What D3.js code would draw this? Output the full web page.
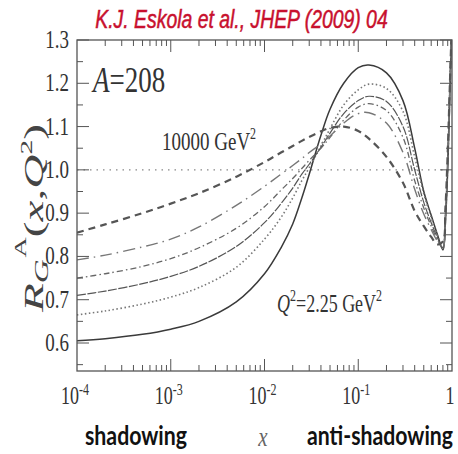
<!DOCTYPE html>
<html><head><meta charset="utf-8">
<script src="https://cdn.jsdelivr.net/npm/d3@7"></script>
<style>body{margin:0;background:#fff}svg{display:block}</style>
</head><body>
<script>
// ---- data ----
const xValues = [1e-4, 2e-4, 5e-4, 1e-3, 2e-3, 5e-3, 1e-2, 1.5e-2, 2e-2, 2.5e-2, 3e-2, 4e-2, 5e-2, 7e-2, 0.1, 0.13, 0.2, 0.3, 0.4, 0.5, 0.6, 0.7, 0.8, 0.85, 0.9, 0.95, 1.0];
const rQ2_lowest  = [0.605,0.610,0.620,0.632,0.650,0.695,0.760,0.820,0.875,0.935,0.990,1.080,1.140,1.200,1.236,1.242,1.224,1.160,1.050,0.950,0.895,0.850,0.815,0.880,1.000,1.180,1.350];
const rQ2_second  = [0.665,0.674,0.690,0.706,0.728,0.775,0.840,0.890,0.935,0.975,1.005,1.055,1.095,1.150,1.185,1.198,1.188,1.135,1.030,0.945,0.890,0.848,0.818,0.885,1.010,1.190,1.350];
const rQ2_third   = [0.710,0.720,0.737,0.754,0.777,0.823,0.878,0.922,0.958,0.990,1.013,1.052,1.085,1.130,1.160,1.170,1.158,1.100,1.000,0.925,0.878,0.843,0.820,0.890,1.020,1.200,1.350];
const rQ2_fourth  = [0.750,0.760,0.777,0.795,0.820,0.865,0.915,0.953,0.980,1.003,1.022,1.050,1.075,1.115,1.145,1.153,1.137,1.075,0.975,0.912,0.870,0.838,0.820,0.890,1.020,1.200,1.350];
const rQ2_fifth   = [0.792,0.803,0.822,0.840,0.868,0.918,0.962,0.990,1.010,1.026,1.040,1.060,1.078,1.108,1.130,1.132,1.108,1.040,0.955,0.898,0.862,0.835,0.822,0.895,1.030,1.200,1.350];
const rQ2_highest = [0.855,0.874,0.900,0.922,0.946,0.984,1.018,1.040,1.055,1.067,1.076,1.089,1.097,1.100,1.090,1.072,1.030,0.970,0.905,0.870,0.845,0.828,0.835,0.910,1.040,1.200,1.350];
const xTickExponents = [-4, -3, -2, -1];
const xLastTickLabel = "1";
const yTickValues = [0.6, 0.7, 0.8, 0.9, 1.0, 1.1, 1.2, 1.3];
const yTickLabels = ["0.6", "0.7", "0.8", "0.9", "1.0", "1.1", "1.2", "1.3"];
const titleText = "K.J. Eskola et al., JHEP (2009) 04";
const nucleusLabel = ["A", "=208"];
const highQ2Label = "10000 GeV";
const lowQ2Label = ["Q", "=2.25 GeV"];
const bottomLeftText = "shadowing";
const bottomRightText = "anti-shadowing";

// ---- layout ----
const W = 458, H = 454;
const L = 77, R = 452, T = 40, B = 371;
const serif = "'Liberation Serif','Times New Roman',serif";
const sans = "'Liberation Sans',Arial,sans-serif";
const x = d3.scaleLog().domain([1e-4, 1]).range([L, R]);
const y = d3.scaleLinear().domain([0.6, 1.3]).range([343, 40]);

const svg = d3.select("body").append("svg").attr("width", W).attr("height", H)
  .style("background", "#fff");

svg.append("clipPath").attr("id", "clip").append("rect")
  .attr("x", L).attr("y", T).attr("width", R - L).attr("height", B - T);

// reference line at 1.0
svg.append("line").attr("x1", L).attr("x2", R).attr("y1", y(1)).attr("y2", y(1))
  .attr("stroke", "#888").attr("stroke-width", 1.2).attr("stroke-dasharray", "1.5,5");

// curves
const series = [
  {v: rQ2_lowest,  dash: null,          w: 1.5, c: "#3a3a3a"},
  {v: rQ2_second,  dash: "1.5,2.5",     w: 1.6, c: "#777"},
  {v: rQ2_third,   dash: "9,1.5",       w: 1.2, c: "#555"},
  {v: rQ2_fourth,  dash: "6,3,1.5,3",   w: 1.3, c: "#666"},
  {v: rQ2_fifth,   dash: "12,5,1.5,5",  w: 1.4, c: "#777"},
  {v: rQ2_highest, dash: "7,5",         w: 2.2, c: "#555"}
];
const line = d3.line().x(d => x(d[0])).y(d => y(d[1])).curve(d3.curveCatmullRom.alpha(0.5));
const gCurves = svg.append("g").attr("clip-path", "url(#clip)");
series.forEach(s => {
  gCurves.append("path").datum(xValues.map((xv, i) => [xv, s.v[i]]))
    .attr("d", line).attr("fill", "none").attr("stroke", s.c)
    .attr("stroke-width", s.w).attr("stroke-dasharray", s.dash);
});

// frame
svg.append("rect").attr("x", L).attr("y", T).attr("width", R - L).attr("height", B - T)
  .attr("fill", "none").attr("stroke", "#555").attr("stroke-width", 1.3);

// x ticks (inward, top and bottom)
const gT = svg.append("g").attr("stroke", "#555").attr("stroke-width", 1);
const xMinor = [];
for (let e = -4; e < 0; e++) for (let m = 2; m <= 9; m++) xMinor.push(m * Math.pow(10, e));
const xMajor = [1e-3, 1e-2, 1e-1];
xMinor.forEach(v => {
  gT.append("line").attr("x1", x(v)).attr("x2", x(v)).attr("y1", B).attr("y2", B - 6);
  gT.append("line").attr("x1", x(v)).attr("x2", x(v)).attr("y1", T).attr("y2", T + 6);
});
xMajor.forEach(v => {
  gT.append("line").attr("x1", x(v)).attr("x2", x(v)).attr("y1", B).attr("y2", B - 12);
  gT.append("line").attr("x1", x(v)).attr("x2", x(v)).attr("y1", T).attr("y2", T + 12);
});
// y ticks (inward, left and right)
const yMinor = d3.range(0.55, 1.3, 0.1);
yMinor.forEach(v => {
  gT.append("line").attr("x1", L).attr("x2", L + 6).attr("y1", y(v)).attr("y2", y(v));
  gT.append("line").attr("x1", R).attr("x2", R - 6).attr("y1", y(v)).attr("y2", y(v));
});
yTickValues.forEach(v => {
  gT.append("line").attr("x1", L).attr("x2", L + 12).attr("y1", y(v)).attr("y2", y(v));
  gT.append("line").attr("x1", R).attr("x2", R - 12).attr("y1", y(v)).attr("y2", y(v));
});

// helper for vertically stretched text
function stretched(px, py, sy) {
  return svg.append("g").attr("transform", `translate(${px},${py}) scale(1,${sy})`);
}

// x tick labels
xTickExponents.forEach(e => {
  const t = stretched(x(Math.pow(10, e)) - 16, 404, 1.35).append("text")
    .style("font-family", serif).style("font-size", "18px").attr("fill", "#333");
  t.append("tspan").text("10");
  t.append("tspan").attr("dy", -7).style("font-size", "12px").text(String(e));
});
stretched(x(1) - 2, 404, 1.35).append("text").attr("text-anchor", "middle")
  .style("font-family", serif).style("font-size", "18px").attr("fill", "#333").text(xLastTickLabel);

// y tick labels
yTickValues.forEach((v, i) => {
  stretched(69, y(v) + 8, 1.35).append("text").attr("text-anchor", "end")
    .style("font-family", serif).style("font-size", "19px").attr("fill", "#333").text(yTickLabels[i]);
});

// title
stretched(241.5, 28, 1.3).append("text").attr("text-anchor", "middle")
  .style("font-family", sans).style("font-style", "italic").style("font-size", "19.4px")
  .attr("fill", "#c8102e").attr("stroke", "#c8102e").attr("stroke-width", 0.4).text(titleText);

// A=208
{
  const t = stretched(93, 92, 1.35).append("text").style("font-family", serif)
    .style("font-size", "27px").attr("fill", "#333");
  t.append("tspan").style("font-style", "italic").text(nucleusLabel[0]);
  t.append("tspan").text(nucleusLabel[1]);
}
// 10000 GeV^2
{
  const t = stretched(162, 150, 1.35).append("text").style("font-family", serif)
    .style("font-size", "19px").attr("fill", "#333");
  t.append("tspan").text(highQ2Label);
  t.append("tspan").attr("dy", -8).style("font-size", "12px").text("2");
}
// Q^2=2.25 GeV^2
{
  const t = stretched(277, 312, 1.35).append("text").style("font-family", serif)
    .style("font-size", "18px").attr("fill", "#333");
  t.append("tspan").style("font-style", "italic").text(lowQ2Label[0]);
  t.append("tspan").attr("dy", -8).style("font-size", "12px").text("2");
  t.append("tspan").attr("dy", 8).text(lowQ2Label[1]);
  t.append("tspan").attr("dy", -8).style("font-size", "12px").text("2");
}

// y-axis label R_G^A(x,Q^2)
{
  const t = svg.append("text").attr("transform", "translate(43,218) rotate(-90) scale(1.75,1)")
    .attr("text-anchor", "middle").style("font-family", serif).style("font-size", "27px")
    .attr("fill", "#444");
  t.append("tspan").style("font-style", "italic").text("R");
  t.append("tspan").style("font-style", "italic").style("font-size", "19px").attr("dy", 5).text("G");
  t.append("tspan").style("font-size", "16px").attr("dy", -22).attr("dx", 1).text("A");
  t.append("tspan").attr("dy", 17).text("(");
  t.append("tspan").style("font-style", "italic").text("x");
  t.append("tspan").text(",");
  t.append("tspan").style("font-style", "italic").text("Q");
  t.append("tspan").style("font-size", "17px").attr("dy", -11).text("2");
  t.append("tspan").attr("dy", 11).text(")");
}

// x-axis label
stretched(263, 446, 1.3).append("text").attr("text-anchor", "middle")
  .style("font-family", serif).style("font-style", "italic").style("font-size", "21px")
  .attr("fill", "#666").text("x");

// bottom words
stretched(85, 445, 1.3).append("text").style("font-family", "Lato,'Noto Sans',sans-serif")
  .style("font-weight", "bold").style("font-size", "20px").attr("fill", "#111")
  .attr("textLength", 102).attr("lengthAdjust", "spacingAndGlyphs").text(bottomLeftText);
stretched(307, 445, 1.3).append("text").style("font-family", "Lato,'Noto Sans',sans-serif")
  .style("font-weight", "bold").style("font-size", "20px").attr("fill", "#111")
  .attr("textLength", 146).attr("lengthAdjust", "spacingAndGlyphs").text(bottomRightText);
</script>
</body></html>
